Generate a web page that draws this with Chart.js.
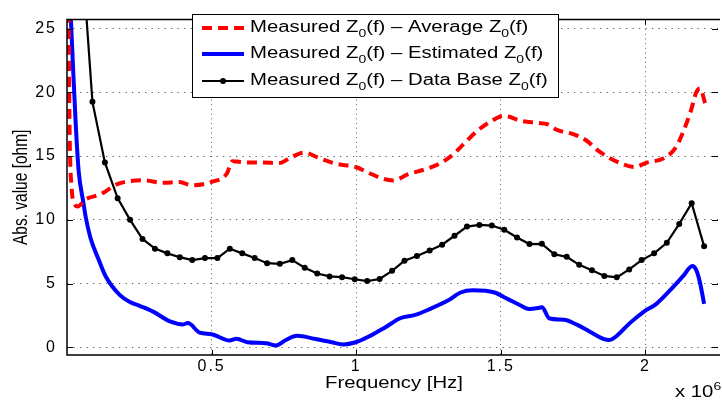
<!DOCTYPE html>
<html>
<head>
<meta charset="utf-8">
<script src="https://cdn.jsdelivr.net/npm/chart.js@4.4.0/dist/chart.umd.min.js"></script>
<style>
    body { margin: 0; background: #fff; }
    #wrap { width: 722px; height: 401px; }
</style>
</head>
<body>
<div id="wrap"><canvas id="chart" width="722" height="401"></canvas></div>
<script>
// frequencies are in units of 10^6 Hz, values in ohm
const fAverage = [0.004, 0.009, 0.016, 0.026, 0.037, 0.064, 0.116, 0.174, 0.263, 0.332, 0.390, 0.431, 0.503, 0.552, 0.572, 0.620,
    0.675, 0.733, 0.775, 0.819, 0.871, 0.929, 0.998, 1.042, 1.087, 1.128, 1.180, 1.238, 1.282, 1.327, 1.361, 1.420, 1.464,
    1.512, 1.567, 1.626, 1.660, 1.694, 1.753, 1.797, 1.832, 1.876, 1.924, 1.962, 2.003, 2.065, 2.106, 2.134, 2.158, 2.176,
    2.189, 2.207];
const zAverage = [30, 17, 12.5, 11.3, 11.05, 11.6, 12.0, 12.8, 13.1, 12.9, 12.96, 12.7, 13.0, 13.6, 14.6, 14.5,
    14.5, 14.45, 14.9, 15.27, 14.85, 14.4, 14.14, 13.7, 13.26, 13.09, 13.58, 13.96, 14.34, 14.97, 15.7, 17.0, 17.7,
    18.16, 17.78, 17.6, 17.5, 17.05, 16.7, 16.2, 15.5, 14.85, 14.35, 14.14, 14.47, 14.85, 15.7, 17.1, 18.6, 20.0,
    20.3, 19.1];

const fEstimated = [0.011, 0.020, 0.030, 0.040, 0.057, 0.064, 0.081, 0.109, 0.133, 0.184, 0.219, 0.253, 0.298, 0.356, 0.401,
    0.418, 0.459, 0.500, 0.562, 0.586, 0.624, 0.689, 0.723, 0.757, 0.795, 0.860, 0.915, 0.956, 0.998, 1.042, 1.101, 1.152,
    1.204, 1.258, 1.317, 1.361, 1.403, 1.478, 1.523, 1.567, 1.598, 1.633, 1.643, 1.667, 1.718, 1.763, 1.808, 1.857, 1.877,
    1.901, 1.946, 1.994, 2.038, 2.083, 2.131, 2.162, 2.176, 2.189, 2.203];
const zEstimated = [27, 22.4, 17.6, 13.9, 11.3, 10.3, 8.6, 6.9, 5.6, 4.07, 3.54, 3.24, 2.8, 2.03, 1.8,
    1.9, 1.15, 1.03, 0.53, 0.68, 0.4, 0.32, 0.15, 0.58, 0.9, 0.65, 0.4, 0.23, 0.4, 0.83, 1.58, 2.28,
    2.54, 3.04, 3.67, 4.3, 4.47, 4.3, 3.8, 3.3, 3.0, 3.1, 3.15, 2.28, 2.16, 1.78, 1.23, 0.65, 0.58,
    0.9, 1.9, 2.79, 3.41, 4.42, 5.6, 6.38, 6.05, 5.05, 3.41];

const fDataBase = [0.045, 0.088, 0.131, 0.175, 0.218, 0.261, 0.304, 0.347, 0.390, 0.433, 0.477, 0.520, 0.563, 0.606, 0.649,
    0.692, 0.736, 0.779, 0.822, 0.865, 0.908, 0.951, 0.995, 1.038, 1.081, 1.124, 1.167, 1.210, 1.254, 1.297, 1.340, 1.383,
    1.426, 1.469, 1.512, 1.556, 1.599, 1.642, 1.685, 1.728, 1.771, 1.815, 1.858, 1.901, 1.944, 1.987, 2.030, 2.074, 2.117,
    2.160, 2.203];
const zDataBase = [33, 19.25, 14.5, 11.7, 10.0, 8.5, 7.74, 7.37, 7.07, 6.84, 7.0, 7.0, 7.74, 7.37, 7.0,
    6.6, 6.55, 6.84, 6.24, 5.79, 5.56, 5.5, 5.34, 5.2, 5.36, 6.0, 6.8, 7.17, 7.6, 8.05, 8.75, 9.47,
    9.6, 9.55, 9.22, 8.62, 8.1, 8.12, 7.3, 7.1, 6.47, 6.04, 5.6, 5.49, 6.11, 6.84, 7.37, 8.2, 9.68,
    11.3, 7.92];

const xTicks = [0.5, 1, 1.5, 2];
const xTickLabels = ['0.5', '1', '1.5', '2'];
const yTicks = [0, 5, 10, 15, 20, 25];
const yTickLabels = ['0', '5', '10', '15', '20', '25'];

// '_0' marks a subscript digit, '^6' a superscript digit
const legendLabels = [
    'Measured Z_0(f) \u2013 Average Z_0(f)',
    'Measured Z_0(f) \u2013 Estimated Z_0(f)',
    'Measured Z_0(f) \u2013 Data Base Z_0(f)'
];
const xTitle = 'Frequency [Hz]';
const yTitle = 'Abs. value [ohm]';
const xExponent = 'x 10^6';

const FONT = "'Liberation Sans', Arial, sans-serif";
const SX = 1.27; // the text in the figure is stretched horizontally

const toPoints = (xs, ys) => xs.map((x, i) => ({ x: x, y: ys[i] }));

const richWidth = (ctx, text, size) => {
    let w = 0;
    text.split(/([_^]\d)/).forEach(p => {
        if (!p) return;
        if (p[0] === '_' || p[0] === '^') {
            ctx.font = `${Math.round(size * 0.7)}px ${FONT}`;
            w += ctx.measureText(p[1]).width;
        } else {
            ctx.font = `${size}px ${FONT}`;
            w += ctx.measureText(p).width;
        }
    });
    return w * SX;
};

const drawRich = (ctx, text, x, y, size) => {
    ctx.save();
    ctx.translate(x, y);
    ctx.scale(SX, 1);
    ctx.fillStyle = '#000';
    ctx.textBaseline = 'alphabetic';
    ctx.textAlign = 'left';
    let cx = 0;
    text.split(/([_^]\d)/).forEach(p => {
        if (!p) return;
        if (p[0] === '_' || p[0] === '^') {
            ctx.font = `${Math.round(size * 0.7)}px ${FONT}`;
            ctx.fillText(p[1], cx, p[0] === '_' ? 5 : -7);
            cx += ctx.measureText(p[1]).width;
        } else {
            ctx.font = `${size}px ${FONT}`;
            ctx.fillText(p, cx, 0);
            cx += ctx.measureText(p).width;
        }
    });
    ctx.restore();
};

const spacing = {
    id: 'spacing',
    beforeDraw(chart) {
        chart.ctx.letterSpacing = '2px';
    }
};

const frame = {
    id: 'frame',
    afterDraw(chart) {
        const { ctx, chartArea: a, scales: { x, y } } = chart;
        ctx.save();
        ctx.letterSpacing = '0px';
        ctx.strokeStyle = '#000';
        ctx.lineWidth = 1.5;
        ctx.setLineDash([]);
        ctx.beginPath();
        ctx.moveTo(a.right + 2, a.top);
        ctx.lineTo(a.left, a.top);
        ctx.lineTo(a.left, a.bottom);
        ctx.lineTo(a.right + 2, a.bottom);
        ctx.stroke();
        ctx.lineWidth = 1;
        ctx.beginPath();
        xTicks.forEach(v => {
            const px = Math.round(x.getPixelForValue(v)) + 0.5;
            ctx.moveTo(px, a.bottom); ctx.lineTo(px, a.bottom - 5);
            ctx.moveTo(px, a.top); ctx.lineTo(px, a.top + 5);
        });
        yTicks.forEach(v => {
            const py = Math.round(y.getPixelForValue(v)) + 0.5;
            ctx.moveTo(a.left, py); ctx.lineTo(a.left + 6, py);
            ctx.moveTo(a.right, py); ctx.lineTo(a.right - 6, py);
        });
        ctx.stroke();

        // axis titles and exponent
        const wx = richWidth(ctx, xTitle, 16);
        drawRich(ctx, xTitle, 394 - wx / 2, 388, 16);
        drawRich(ctx, xExponent, 675, 397, 16);

        ctx.save();
        ctx.translate(27, (a.top + a.bottom) / 2);
        ctx.scale(SX, 1);
        ctx.rotate(-Math.PI / 2);
        ctx.font = `15.5px ${FONT}`;
        ctx.fillStyle = '#000';
        ctx.textAlign = 'center';
        ctx.textBaseline = 'alphabetic';
        ctx.fillText(yTitle, 0, 0);
        ctx.restore();

        // legend box
        const box = { left: 192, top: 14, right: 558, bottom: 97 };
        ctx.fillStyle = '#fff';
        ctx.fillRect(box.left, box.top, box.right - box.left, box.bottom - box.top);
        ctx.strokeStyle = '#000';
        ctx.lineWidth = 1;
        ctx.strokeRect(box.left + 0.5, box.top + 0.5, box.right - box.left, box.bottom - box.top);
        const rows = [28, 54, 81];
        chart.data.datasets.forEach((ds, i) => {
            const ly = rows[i];
            ctx.save();
            ctx.strokeStyle = ds.borderColor;
            ctx.lineWidth = ds.borderWidth;
            ctx.setLineDash(ds.borderDash || []);
            ctx.beginPath();
            ctx.moveTo(202, ly);
            ctx.lineTo(244, ly);
            ctx.stroke();
            if (ds.pointRadius > 0) {
                ctx.fillStyle = ds.pointBackgroundColor;
                ctx.beginPath();
                ctx.arc(223, ly, ds.pointRadius, 0, Math.PI * 2);
                ctx.fill();
            }
            ctx.restore();
            drawRich(ctx, legendLabels[i], 250, ly + 4, 16);
        });
        ctx.restore();
    }
};

document.addEventListener('DOMContentLoaded', () => {
    const ctx = document.getElementById('chart').getContext('2d');
    const tickFont = { family: FONT, size: 16 };

    new Chart(ctx, {
        type: 'scatter',
        data: {
            datasets: [{
                label: legendLabels[0],
                data: toPoints(fAverage, zAverage),
                showLine: true,
                borderColor: '#ff0000',
                borderWidth: 4,
                borderDash: [10, 6],
                pointRadius: 0,
                cubicInterpolationMode: 'monotone',
                clip: 0
            }, {
                label: legendLabels[1],
                data: toPoints(fEstimated, zEstimated),
                showLine: true,
                borderColor: '#0000ff',
                borderWidth: 4,
                pointRadius: 0,
                cubicInterpolationMode: 'monotone',
                clip: 0
            }, {
                label: legendLabels[2],
                data: toPoints(fDataBase, zDataBase),
                showLine: true,
                borderColor: '#000000',
                borderWidth: 2.2,
                pointRadius: 3,
                pointBackgroundColor: '#000000',
                pointBorderWidth: 0,
                clip: 0
            }]
        },
        options: {
            responsive: false,
            animation: false,
            devicePixelRatio: 1,
            layout: { padding: { top: 6, left: 0, right: 0, bottom: 0 } },
            plugins: {
                legend: { display: false },
                tooltip: { enabled: false }
            },
            scales: {
                x: {
                    type: 'linear',
                    min: 0,
                    max: 2.251,
                    afterBuildTicks: axis => { axis.ticks = xTicks.map(v => ({ value: v })); },
                    afterFit: axis => { axis.height = 46; },
                    grid: { color: '#606060', lineWidth: 1, drawTicks: false },
                    border: { display: false, dash: [1, 3.7] },
                    ticks: {
                        padding: 2,
                        color: '#000',
                        font: tickFont,
                        maxRotation: 0,
                        autoSkip: false,
                        callback: (v, i) => xTickLabels[i]
                    }
                },
                y: {
                    min: -0.6,
                    max: 25.7,
                    afterBuildTicks: axis => { axis.ticks = yTicks.map(v => ({ value: v })); },
                    afterFit: axis => { axis.width = 67; },
                    grid: { color: '#606060', lineWidth: 1, drawTicks: false },
                    border: { display: false, dash: [1.3, 5.2] },
                    ticks: {
                        padding: 10,
                        color: '#000',
                        font: tickFont,
                        autoSkip: false,
                        callback: (v, i) => yTickLabels[i]
                    }
                }
            }
        },
        plugins: [spacing, frame]
    });
});
</script>
</body>
</html>
